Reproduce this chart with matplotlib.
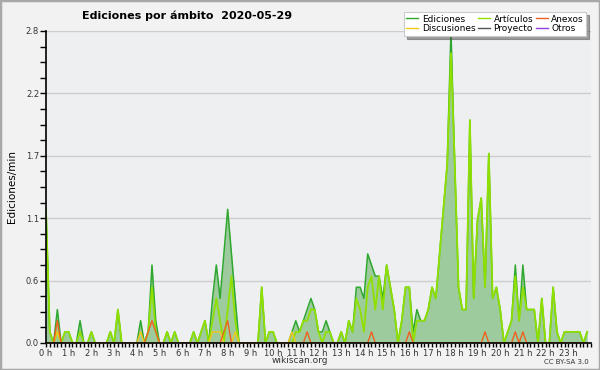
import numpy as np
import matplotlib
matplotlib.use("Agg")
import matplotlib.pyplot as plt
from matplotlib.lines import Line2D
from matplotlib.patches import Rectangle

# edits per minute, 10-minute bins (144 per day)
ediciones = [1.2, 0.1, 0, 0.3, 0, 0.1, 0.1, 0, 0, 0.2, 0, 0, 0.1, 0, 0, 0, 0, 0.1, 0, 0.3, 0, 0, 0, 0,
             0, 0.2, 0, 0.1, 0.7, 0.2, 0, 0, 0.1, 0, 0.1, 0, 0, 0, 0, 0.1, 0, 0.1, 0.2, 0, 0.4, 0.7, 0.4, 0.8,
             1.2, 0.8, 0.4, 0, 0, 0, 0, 0, 0, 0.5, 0, 0.1, 0.1, 0, 0, 0, 0, 0.1, 0.2, 0.1, 0.2, 0.3, 0.4, 0.3,
             0.1, 0.1, 0.2, 0.1, 0, 0, 0.1, 0, 0.2, 0.1, 0.5, 0.5, 0.4, 0.8, 0.7, 0.6, 0.6, 0.4, 0.7, 0.5, 0.3, 0,
             0.2, 0.5, 0.5, 0.1, 0.3, 0.2, 0.2, 0.3, 0.5, 0.4, 0.8, 1.2, 1.6, 2.8, 1.6, 0.5, 0.3, 0.3, 2.0, 0.4,
             1.1, 1.3, 0.5, 1.7, 0.4, 0.5, 0.3, 0, 0.1, 0.2, 0.7, 0.2, 0.7, 0.3, 0.3, 0.3, 0, 0.4, 0, 0, 0.5, 0.1,
             0, 0.1, 0.1, 0.1, 0.1, 0.1, 0, 0.1]
articulos = [1.2, 0.1, 0, 0.1, 0, 0.1, 0.1, 0, 0, 0.1, 0, 0, 0.1, 0, 0, 0, 0, 0.1, 0, 0.3, 0, 0, 0, 0,
             0, 0, 0, 0.1, 0.5, 0.1, 0, 0, 0.1, 0, 0.1, 0, 0, 0, 0, 0.1, 0, 0.1, 0.2, 0, 0.2, 0.4, 0.2, 0,
             0.3, 0.6, 0.2, 0, 0, 0, 0, 0, 0, 0.5, 0, 0.1, 0.1, 0, 0, 0, 0, 0, 0.1, 0.1, 0.2, 0.2, 0.3, 0.3,
             0.1, 0, 0.1, 0.1, 0, 0, 0.1, 0, 0.2, 0.1, 0.4, 0.3, 0.1, 0.5, 0.6, 0.3, 0.6, 0.3, 0.7, 0.5, 0.3, 0,
             0.2, 0.5, 0.5, 0, 0.2, 0.2, 0.2, 0.3, 0.5, 0.4, 0.8, 1.2, 1.6, 2.6, 1.6, 0.5, 0.3, 0.3, 2.0, 0.4,
             1.1, 1.3, 0.5, 1.7, 0.4, 0.5, 0.3, 0, 0.1, 0.2, 0.6, 0.2, 0.5, 0.3, 0.3, 0.3, 0, 0.4, 0, 0, 0.5, 0.1,
             0, 0.1, 0.1, 0.1, 0.1, 0.1, 0, 0.1]
anexos = [0] * 144
for i, v in [(3, 0.2), (27, 0.1), (28, 0.2), (29, 0.1), (47, 0.1), (48, 0.2), (69, 0.1),
             (86, 0.1), (96, 0.1), (116, 0.1), (124, 0.1), (126, 0.1)]:
    anexos[i] = v
discusiones = [0] * 144
for i, v in [(3, 0.1), (25, 0.1), (44, 0.1), (45, 0.1), (46, 0.1), (50, 0.1), (65, 0.1)]:
    discusiones[i] = v

hour_labels = ["%d h" % h for h in range(24)]
legend_names = ["Ediciones", "Discusiones", "Artículos", "Proyecto", "Anexos", "Otros"]
legend_colors = ["#2fa82f", "#f2c81a", "#8fe000", "#555555", "#f06020", "#9040e0"]

x = np.arange(144) / 6.0

plt.rcParams['font.family'] = ['DejaVu Sans']
fig = plt.figure(figsize=(6, 3.7), dpi=100, facecolor="#f2f2f2")
ax = fig.add_axes([46/600, 1-343/370, 545/600, 312/370])
ax.set_facecolor("#eeeff1")

ax.fill_between(x, ediciones, color="#9dcb9d", lw=0, zorder=2)
ax.plot(x, ediciones, color="#2fa82f", lw=1.1, zorder=3)
ax.plot(x, articulos, color="#8fe000", lw=1.3, zorder=4)
ax.plot(x, discusiones, color="#f2c81a", lw=1.0, zorder=5)
ax.plot(x, anexos, color="#f06020", lw=1.0, zorder=6)

ymax = 2.8
ax.set_xlim(0, 24)
ax.set_ylim(0, ymax)
yt = np.linspace(0, ymax, 6)
ax.set_yticks(yt)
ax.set_yticklabels(["%.1f" % v for v in yt])
ax.set_yticks(np.arange(0, ymax + 0.01, 0.14), minor=True)
ax.set_xticks(np.arange(24))
ax.set_xticklabels(hour_labels)
ax.set_xticks(np.arange(0, 24.01, 1/6.), minor=True)
ax.tick_params(axis="both", which="both", direction="out", color="black", width=1,
               labelsize=6, pad=1, labelcolor="#333333")
ax.tick_params(axis="x", which="both", length=3)
ax.tick_params(axis="y", which="both", length=4)
ax.grid(axis="y", color="#cdcdcd", lw=1, zorder=1)
ax.set_axisbelow(True)
for s in ["top", "right"]:
    ax.spines[s].set_visible(False)
for s in ["left", "bottom"]:
    ax.spines[s].set_color("black")
    ax.spines[s].set_linewidth(1.2)
    ax.spines[s].set_zorder(7)

ax.set_ylabel("Ediciones/min", fontsize=7.5, labelpad=6)
fig.text(0.312, 0.957, "Ediciones por ámbito  2020-05-29", ha="center", va="center",
         fontsize=8, fontweight="bold")
fig.text(0.5, 0.025, "wikiscan.org", ha="center", va="center", fontsize=6.5, color="#333333")
fig.text(0.982, 0.022, "CC BY-SA 3.0", ha="right", va="center", fontsize=5, color="#333333")

handles = [Line2D([], [], color=c, lw=1) for c in legend_colors]
leg = fig.legend(handles, legend_names, ncol=3, loc="upper right", bbox_to_anchor=(0.985, 0.98),
                 fontsize=6.5, handlelength=1.3, handletextpad=0.4, columnspacing=0.3,
                 labelspacing=0.05, borderpad=0.3, fancybox=False, shadow=True,
                 framealpha=1, edgecolor="#cccccc")
leg.get_frame().set_linewidth(0.8)

fig.patches.append(Rectangle((0, 0), 1, 1, transform=fig.transFigure, fill=False,
                             edgecolor="#a8a8a8", lw=2.5))

fig.savefig("out.png", dpi=100, facecolor=fig.get_facecolor())
